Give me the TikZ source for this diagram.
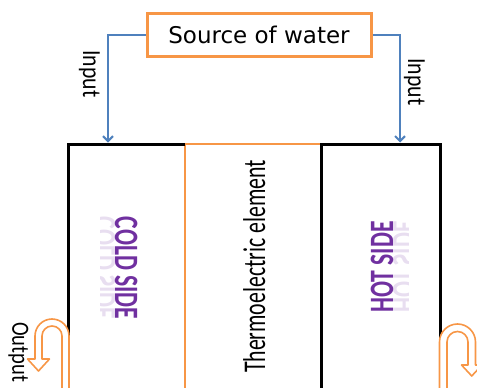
\documentclass[tikz,border=0pt]{standalone}
\usepackage{fontspec}
\setmainfont{Carlito}
\newfontfamily\sourcefont{DejaVu Sans}
\usetikzlibrary{arrows.meta}
\definecolor{pipeorange}{HTML}{F79646}
\definecolor{inputblue}{HTML}{4F81BD}
\definecolor{sidepurple}{HTML}{7030A0}
\tikzset{%
	source box/.style={
		draw=pipeorange,
		line width=3pt,
		minimum width=224pt,
		minimum height=43.5pt,
		inner sep=0pt,
		font=\sourcefont\fontsize{23}{26}\selectfont
	},
	input line/.style={
		draw=inputblue,
		line width=2pt,
		-{Straight Barb[length=5pt,width=10pt]}
	},
	side wall/.style={draw=black, line width=3pt},
	element wall/.style={draw=pipeorange, line width=2pt},
	pipe/.style={
		draw=pipeorange,
		line width=1.6pt,
		fill=white,
		line join=round
	},
	flow label/.style={
		anchor=base,
		inner sep=0pt,
		font=\fontsize{21.7}{24}\selectfont
	},
	side label/.style={
		anchor=base,
		inner sep=0pt,
		text=sidepurple,
		font=\bfseries\fontsize{23.7}{26}\selectfont
	},
	side mirror/.style={side label, text=sidepurple!16},
}
\begin{document}
\begin{tikzpicture}[x=1pt, y=-1pt]
	\useasboundingbox (0,0) rectangle (477,388);
	\clip (0,0) rectangle (477,388);
	
	% water source and inputs
	\node[source box] (source) at (259,35) {Source of water};
	\coordinate (cold in) at (108,142.5);
	\coordinate (hot in) at (400,142.5);
	\draw[input line] (source.west) -| (cold in);
	\draw[input line] (source.east) -| (hot in);
	\node[flow label, rotate=-90, yscale=1.2] (input cold) at (83,74) {Input};
	\node[flow label, rotate=-90, yscale=1.2] (input hot) at (408,82) {Input};
	
	% walls
	\draw[element wall] (185,400) -- (185,144) -- (321,144);
	\draw[side wall] (68,336) -- (68,144) -- (185,144);
	\draw[side wall] (321,400) -- (321,144) -- (440,144) -- (440,342);
	
	% labels
	\begin{scope}
		\clip (100,200) rectangle (115,340);
		\node[side mirror, rotate=-90, yscale=-1.44] (cold mirror) at (115,268) {COLD SIDE};
	\end{scope}
	\begin{scope}
		\clip (393,200) rectangle (408,340);
		\node[side mirror, rotate=90, yscale=-1.44] (hot mirror) at (393,267) {HOT SIDE};
	\end{scope}
	\node[side label, rotate=-90, yscale=1.44] (cold label) at (115,268) {COLD SIDE};
	\node[side label, rotate=90, yscale=1.44] (hot label) at (393,267) {HOT SIDE};
	\node[flow label, rotate=90, yscale=1.45, font=\fontsize{21.8}{24}\selectfont] (element label) at (265,266.5) {Thermoelectric element};
	
	% outlet pipes
	\draw[pipe] (69,395) -- (69,336) arc[start angle=0, end angle=-180, radius=17]
		-- (35,359) -- (27.5,359) -- (38.5,371) -- (49.5,359) -- (42,359)
		-- (42,336) arc[start angle=180, end angle=360, radius=10] -- (62,395) -- cycle;
	\draw[pipe] (439.5,395) -- (439.5,342) arc[start angle=180, end angle=360, radius=18]
		-- (475.5,365) -- (482,365) -- (471.75,376) -- (461.5,365) -- (468,365)
		-- (468,342) arc[start angle=0, end angle=-180, radius=10.5] -- (447,395) -- cycle;
	\node[flow label, rotate=-90, yscale=1.2, font=\fontsize{20.6}{23}\selectfont] (output label) at (12.3,352) {Output};
\end{tikzpicture}
\end{document}
